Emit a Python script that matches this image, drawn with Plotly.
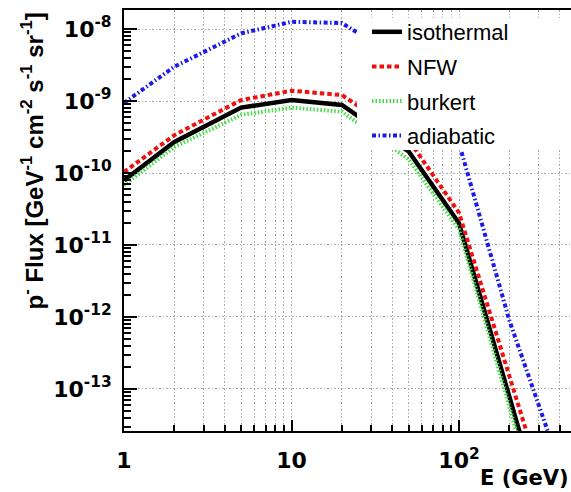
import numpy as np
import plotly.graph_objects as go

# ---- data ----
energy = [1, 2, 5, 10, 20, 50, 100, 200, 500]
isothermal = [7.9e-11, 2.7e-10, 8.1e-10, 1.03e-9, 8.8e-10, 2.0e-10, 2.0e-11, 7.6e-14, 5e-17]
nfw = [1.03e-10, 3.36e-10, 1.03e-9, 1.39e-9, 1.21e-9, 2.9e-10, 2.8e-11, 1.3e-13, 1.5e-16]
burkert = [6.8e-11, 2.3e-10, 6.4e-10, 8.1e-10, 7.1e-10, 1.55e-10, 1.65e-11, 5.5e-14, 3e-17]
adiabatic = [9.4e-10, 3.0e-9, 8.7e-9, 1.26e-8, 1.21e-8, 3.2e-9, 2.6e-10, 8.9e-13, 1.9e-15]

x_tickvals = [1, 10, 100]
x_ticktext = ["1", "10", "10<sup>2</sup>"]
y_tickvals = [1e-8, 1e-9, 1e-10, 1e-11, 1e-12, 1e-13]
y_ticktext = ["10<sup>-8</sup>", "10<sup>-9</sup>", "10<sup>-10</sup>",
              "10<sup>-11</sup>", "10<sup>-12</sup>", "10<sup>-13</sup>"]

series = [
    ("isothermal", isothermal, "black", 4.5, "solid"),
    ("NFW", nfw, "#ee1111", 4, "4.5px,3px"),
    ("burkert", burkert, "#44dd44", 4, "1.5px,2px"),
    ("adiabatic", adiabatic, "#1a1aee", 4, "4px,2.5px,1.5px,2.5px"),
]

W, H = 571, 492
L, T, R, B = 124, 10, 0, 61.3
pw, ph = W - L - R, H - T - B
dec_x = 167.5
dec_y = 71.94
x_range = [0, pw / dec_x]
y_top = -8 + (29 - T) / dec_y
y_range = [y_top - ph / dec_y, y_top]

fig = go.Figure()
for i, (name, vals, col, w, dash) in enumerate(series):
    fig.add_trace(go.Scatter(x=energy, y=vals, mode="lines", name=name,
                             legendgroup=f"g{i}",
                             line=dict(color=col, width=w, dash=dash)))

minor_x = [k * 10 ** e for e in range(0, 3) for k in range(2, 10)]
minor_y = [k * 10.0 ** e for e in range(-14, -7) for k in range(2, 10)]

grid_col = "#a8a8a8"
tick_font = dict(family="DejaVu Sans", size=22, color="black", weight="bold")
fig.update_xaxes(type="log", range=x_range, tickmode="array",
                 tickvals=x_tickvals, ticktext=x_ticktext,
                 ticks="inside", ticklen=11, tickwidth=2, tickcolor="black",
                 showline=True, linewidth=2, linecolor="black", mirror=True,
                 showgrid=True, gridcolor=grid_col, gridwidth=1, griddash="1.5px,2px",
                 tickfont=tick_font,
                 ticklabelstandoff=9,
                 minor=dict(tickvals=minor_x, ticks="inside", ticklen=6, tickwidth=1.5,
                            tickcolor="black", showgrid=True, gridcolor=grid_col,
                            gridwidth=1, griddash="1.5px,2px"),
                 zeroline=False)
fig.update_yaxes(type="log", range=y_range, tickmode="array",
                 tickvals=y_tickvals, ticktext=y_ticktext,
                 ticks="inside", ticklen=13, tickwidth=2, tickcolor="black",
                 showline=True, linewidth=2, linecolor="black", mirror=False,
                 showgrid=True, gridcolor=grid_col, gridwidth=1, griddash="1.5px,2px",
                 tickfont=tick_font,
                 ticklabelstandoff=6,
                 minor=dict(tickvals=minor_y, ticks="inside", ticklen=7, tickwidth=1.5,
                            tickcolor="black", showgrid=False),
                 zeroline=False)

def py(p):
    return (T + ph - p) / ph

def px(p):
    return (p - L) / pw

# white legend box (covers curves, like the original legend pad)
fig.add_shape(type="rect", xref="paper", yref="paper",
              x0=px(357), x1=1.05, y0=py(150), y1=py(18),
              fillcolor="white", line=dict(width=0), layer="above")

fig.add_annotation(text="p<sup>-</sup> Flux [GeV<sup>-1</sup> cm<sup>-2</sup> s<sup>-1</sup> sr<sup>-1</sup>]",
                   xref="paper", yref="paper", x=px(32), y=py(11),
                   xanchor="center", yanchor="top", textangle=-90, showarrow=False,
                   font=dict(family="Liberation Sans", size=24, color="black", weight="bold"))
fig.add_annotation(text="E (GeV)", xref="paper", yref="paper",
                   x=1.0, y=py(478), xanchor="right", yanchor="middle", showarrow=False,
                   font=dict(family="DejaVu Sans", size=21, color="black", weight="bold"))

fig.update_layout(
    width=W, height=H,
    margin=dict(l=L, r=R, t=T, b=B, autoexpand=False),
    paper_bgcolor="white", plot_bgcolor="white",
    showlegend=True,
    legend=dict(x=px(367), y=py(11), xanchor="left", yanchor="top",
                bgcolor="rgba(0,0,0,0)", borderwidth=0, tracegroupgap=3,
                font=dict(family="Liberation Sans", size=22, color="black")),
)

fig.write_html("out.html")
